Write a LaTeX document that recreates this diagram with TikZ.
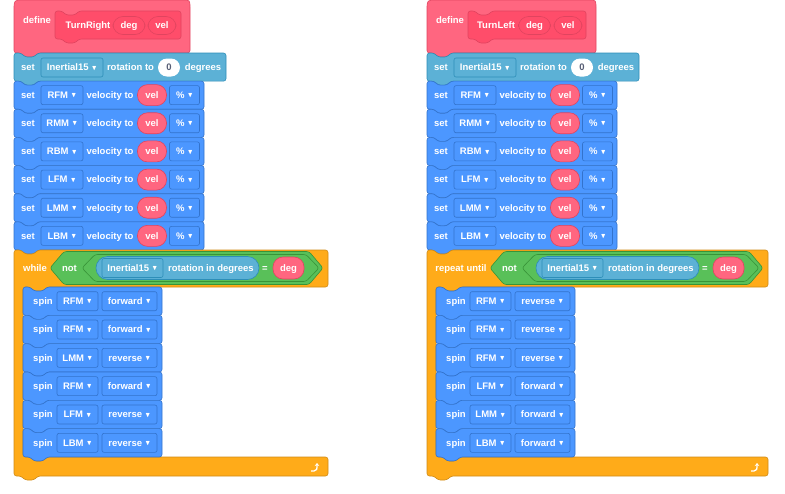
\documentclass[tikz,border=0pt]{standalone}
\usepackage{amssymb}
\usepackage{fontspec}
\setmainfont{Liberation Sans}
\usetikzlibrary{arrows.meta}

\definecolor{MyBlock}{HTML}{FF6680}
\definecolor{MyBlockDark}{HTML}{FF4D6A}
\definecolor{MyBlockLine}{HTML}{E0445F}
\definecolor{Sensing}{HTML}{5CB1D6}
\definecolor{SensingLine}{HTML}{2E8EB8}
\definecolor{Motion}{HTML}{4C97FF}
\definecolor{MotionLine}{HTML}{3373CC}
\definecolor{Control}{HTML}{FFAB19}
\definecolor{ControlLine}{HTML}{CF8B17}
\definecolor{Operator}{HTML}{59C059}
\definecolor{OperatorLine}{HTML}{389438}
\definecolor{Field}{HTML}{575E75}

\newcommand{\police}{\fontsize{9.5}{11}\selectfont\bfseries}
\newcommand{\tri}{\hspace{3pt}{\scriptsize\raisebox{0.6pt}{$\blacktriangledown$}}}
% bloc empilable : x, y, largeur, hauteur
\newcommand{\pile}[4]{(#1,#2) -- (#1+7,#2) -- (#1+11,#2+4) -- (#1+20,#2+4) -- (#1+24,#2) -- (#1+#3,#2) -- (#1+#3,#2+#4) -- (#1+24,#2+#4) -- (#1+20,#2+#4+4) -- (#1+11,#2+#4+4) -- (#1+7,#2+#4) -- (#1,#2+#4) -- cycle}

\begin{document}
\begin{tikzpicture}[x=1pt, y=-1pt,
  txt/.style={text=white, font=\police, inner sep=0pt, text height=6.8pt, text depth=0.2pt},
  bloc/.style={rounded corners=2.5pt, line width=0.6pt},
  hat/.style={bloc, fill=MyBlock, draw=MyBlockLine},
  proto/.style={bloc, fill=MyBlockDark, draw=MyBlockLine},
  sensing/.style={bloc, fill=Sensing, draw=SensingLine},
  motion/.style={bloc, fill=Motion, draw=MotionLine},
  control/.style={bloc, fill=Control, draw=ControlLine},
  operator/.style={bloc, fill=Operator, draw=OperatorLine},
  champ/.style={txt, rounded corners=2pt, line width=0.6pt, minimum height=19pt},
  ddm/.style={champ, fill=Motion, draw=MotionLine},
  dds/.style={champ, fill=Sensing, draw=SensingLine},
  ovale/.style={txt, fill=MyBlock, draw=MyBlockLine, line width=0.6pt, rounded corners=10pt, minimum height=21pt}]

 \useasboundingbox (0,0) rectangle (785,493);

 \foreach \dx/\nom/\hw/\pw/\nx/\degx/\velx/\boucle/\bx/\cx/\spins in {
   0/TurnRight/176/126/88/129/162/while/35/0/{RFM/forward,RFM/forward,LMM/reverse,RFM/forward,LFM/reverse,LBM/reverse},
   413/TurnLeft/169/118/83/121.5/155/repeat until/48/27/{RFM/reverse,RFM/reverse,RFM/reverse,LFM/forward,LMM/forward,LBM/forward}}
 {
 \begin{scope}[xshift=\dx]

  %%%%%%%%%% Bloc define %%%%%%%%%%
  \draw[hat] (14,53) -- (14,12) .. controls (14,0) and (14,0) .. (26,0) -- (4+\hw,0) .. controls (14+\hw,0) and (14+\hw,0) .. (14+\hw,10) -- (14+\hw,53) -- (38,53) -- (34,57) -- (25,57) -- (21,53) -- cycle;
  \draw[proto] \pile{55}{11}{\pw}{28};
  \node[txt] (define\dx) at (37,20) {define};
  \node[txt] (nom\dx) at (\nx,25.5) {\nom};
  \node[ovale, fill=MyBlockDark, minimum width=32pt, minimum height=18pt] (deg\dx) at (\degx,25.5) {deg};
  \node[ovale, fill=MyBlockDark, minimum width=28pt, minimum height=18pt] (vel\dx) at (\velx,25.5) {vel};

  %%%%%%%%%% set Inertial15 %%%%%%%%%%
  \draw[sensing] \pile{14}{53}{212}{28.14};
  \node[txt] (set\dx) at (28,67.5) {set};
  \node[dds, minimum width=62pt] (inertiel\dx) at (72,67.5) {Inertial15\tri};
  \node[txt] (rot\dx) at (130.5,67.5) {rotation to};
  \node[txt, text=Field, fill=white, rounded corners=9pt, minimum width=22pt, minimum height=18pt] (zero\dx) at (169,67.5) {0};
  \node[txt] (degres\dx) at (203,67.5) {degrees};

  %%%%%%%%%% set velocity %%%%%%%%%%
  \foreach \mot [count=\k] in {RFM,RMM,RBM,LFM,LMM,LBM} {
   \pgfmathsetmacro\yy{53+28.14*\k}
   \draw[motion] \pile{14}{\yy}{190}{28.14};
   \node[txt] (setv\dx-\k) at (28,\yy+14) {set};
   \node[ddm, minimum width=42pt] (mot\dx-\k) at (62,\yy+14) {\mot\tri};
   \node[txt] (vit\dx-\k) at (110,\yy+14) {velocity to};
   \node[ovale, minimum width=29pt] (velv\dx-\k) at (152,\yy+14) {vel};
   \node[ddm, minimum width=30pt] (pc\dx-\k) at (184.5,\yy+14) {\%\tri};
  }

  %%%%%%%%%% Boucle %%%%%%%%%%
  \draw[control] (14,250) -- (21,250) -- (25,254) -- (34,254) -- (38,250) -- (328+\cx,250) -- (328+\cx,287) -- (47,287) -- (43,291) -- (34,291) -- (30,287) -- (23,287) -- (23,457) -- (30,457) -- (34,461) -- (43,461) -- (47,457) -- (328+\cx,457) -- (328+\cx,476) -- (38,476) -- (34,480) -- (25,480) -- (21,476) -- (14,476) -- cycle;
  \node[txt] (boucle\dx) at (\bx,268) {\boucle};

  % condition
  \draw[operator] (50+\cx,268) -- (64+\cx,251.5) -- (309+\cx,251.5) -- (323+\cx,268) -- (309+\cx,284.5) -- (64+\cx,284.5) -- cycle;
  \node[txt] (non\dx) at (69.5+\cx,268) {not};
  \draw[operator] (82+\cx,268) -- (95+\cx,254.5) -- (306+\cx,254.5) -- (319+\cx,268) -- (306+\cx,281.5) -- (95+\cx,281.5) -- cycle;
  \draw[sensing, rounded corners=11.5pt] (96+\cx,256.5) rectangle (259+\cx,279.5);
  \node[dds, minimum width=61pt] (capteur\dx) at (132.5+\cx,268) {Inertial15\tri};
  \node[txt] (angle\dx) at (211+\cx,268) {rotation in degrees};
  \node[txt] (egal\dx) at (265+\cx,268) {=};
  \node[ovale, minimum width=31pt, minimum height=22pt] (degc\dx) at (288.5+\cx,268) {deg};

  %%%%%%%%%% spin %%%%%%%%%%
  \foreach \mot/\dir [count=\k] in \spins {
   \pgfmathsetmacro\yy{287+28.33*(\k-1)}
   \draw[motion] \pile{23}{\yy}{139}{28.33};
   \node[txt] (spin\dx-\k) at (43,\yy+14.2) {spin};
   \node[ddm, minimum width=41pt] (smot\dx-\k) at (77.5,\yy+14.2) {\mot\tri};
   \node[ddm, minimum width=55pt] (sens\dx-\k) at (129.5,\yy+14.2) {\dir\tri};
  }

  % fleche de boucle
  \draw[white, line width=1.3pt, -{Stealth[length=3pt,width=4.5pt]}] (311+\cx,471) -- (314+\cx,471) .. controls (317+\cx,471) and (317+\cx,469) .. (317+\cx,463);

 \end{scope}
 }

\end{tikzpicture}
\end{document}
